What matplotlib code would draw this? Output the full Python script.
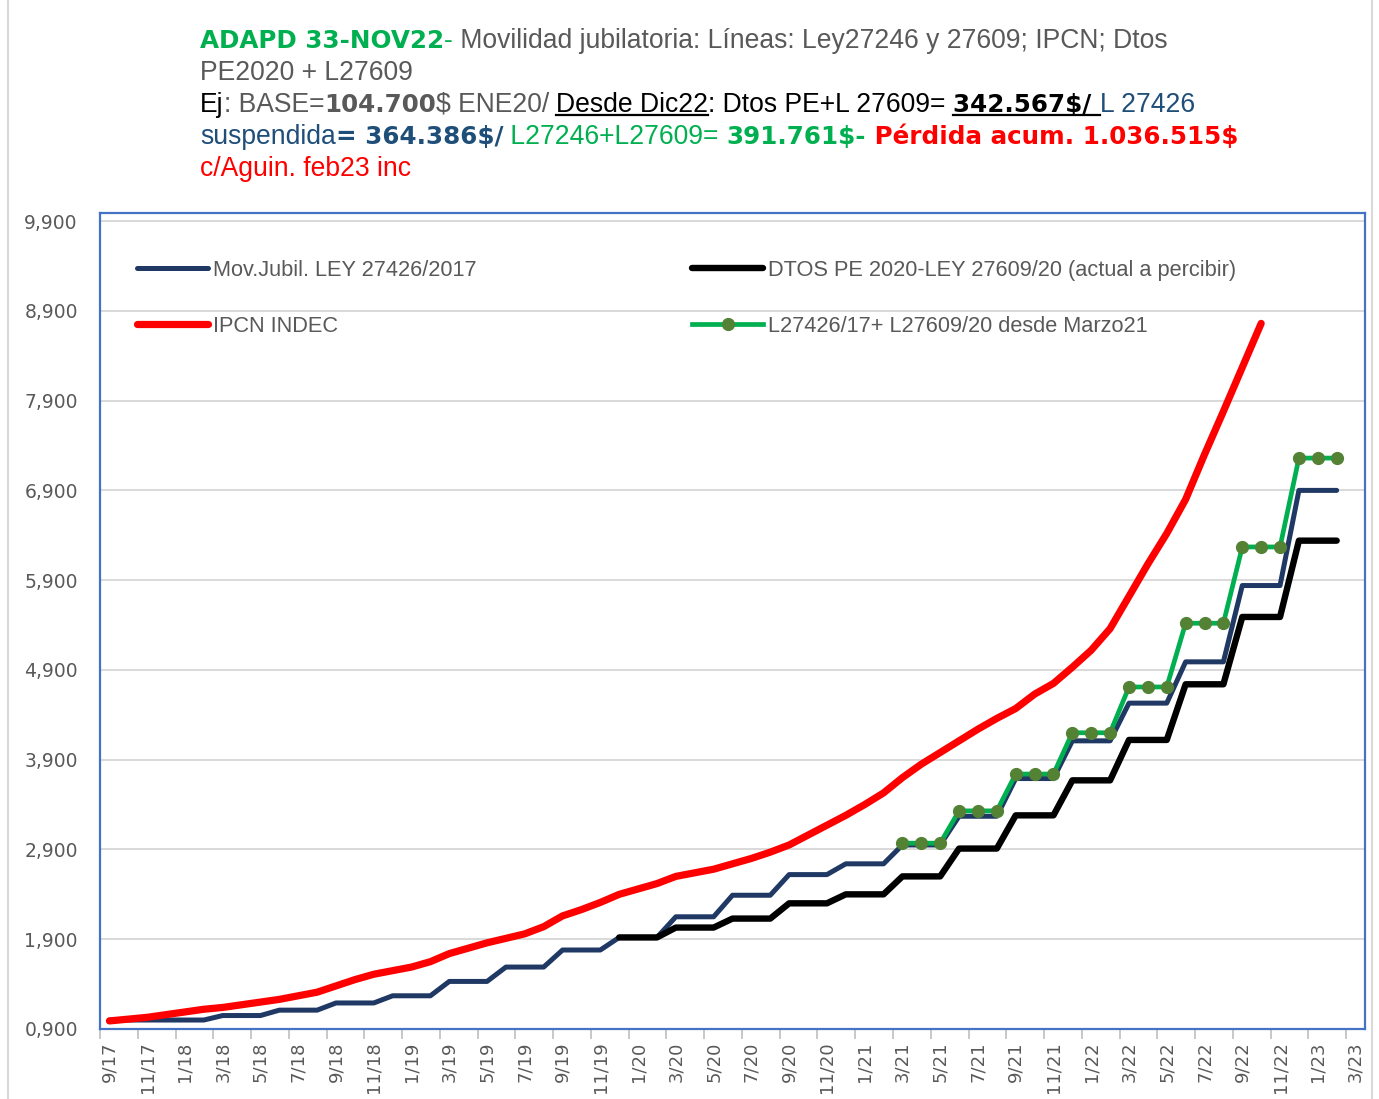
import matplotlib
matplotlib.use("Agg")
import matplotlib.pyplot as plt
import numpy as np
from matplotlib.lines import Line2D

W, H = 1379, 1099
TITLE_FONT = "Liberation Sans"
BOLD_FONT = "DejaVu Sans"
TICK_FONT = "DejaVu Sans"

# eje x: un punto por mes desde 9/17 hasta 3/23, rotulo cada 2 meses
x_labels = ["9/17", "11/17", "1/18", "3/18", "5/18", "7/18", "9/18", "11/18",
            "1/19", "3/19", "5/19", "7/19", "9/19", "11/19", "1/20", "3/20",
            "5/20", "7/20", "9/20", "11/20", "1/21", "3/21", "5/21", "7/21",
            "9/21", "11/21", "1/22", "3/22", "5/22", "7/22", "9/22", "11/22",
            "1/23", "3/23"]
n_months = 67

y_ticks = [0.9, 1.9, 2.9, 3.9, 4.9, 5.9, 6.9, 7.9, 8.9, 9.9]
y_labels = ["0,900", "1,900", "2,900", "3,900", "4,900", "5,900", "6,900",
            "7,900", "8,900", "9,900"]

# Mov.Jubil. LEY 27426/2017 (desde 9/17)
ley27426 = [1.00, 1.00, 1.00, 1.00, 1.00, 1.00,
            1.05, 1.05, 1.05, 1.11, 1.11, 1.11,
            1.19, 1.19, 1.19, 1.27, 1.27, 1.27,
            1.43, 1.43, 1.43, 1.59, 1.59, 1.59,
            1.78, 1.78, 1.78, 1.92, 1.92, 1.92,
            2.15, 2.15, 2.15, 2.39, 2.39, 2.39,
            2.62, 2.62, 2.62, 2.74, 2.74, 2.74,
            2.95, 2.95, 2.95, 3.27, 3.27, 3.27,
            3.69, 3.69, 3.69, 4.11, 4.11, 4.11,
            4.53, 4.53, 4.53, 4.99, 4.99, 4.99,
            5.84, 5.84, 5.84, 6.90, 6.90, 6.90]

# DTOS PE 2020-LEY 27609/20 (desde 12/19)
dtos_start = 27
dtos_pe = [1.92, 1.92, 1.92, 2.03, 2.03, 2.03,
           2.13, 2.13, 2.13, 2.30, 2.30, 2.30,
           2.40, 2.40, 2.40, 2.60, 2.60, 2.60,
           2.91, 2.91, 2.91, 3.28, 3.28, 3.28,
           3.67, 3.67, 3.67, 4.12, 4.12, 4.12,
           4.74, 4.74, 4.74, 5.49, 5.49, 5.49,
           6.34, 6.34, 6.34]

# IPCN INDEC (desde 9/17)
ipcn = [0.99, 1.01, 1.03, 1.06, 1.09, 1.12, 1.14, 1.17, 1.20, 1.23,
        1.27, 1.31, 1.38, 1.45, 1.51, 1.55, 1.59, 1.65, 1.74, 1.80,
        1.86, 1.91, 1.96, 2.04, 2.16, 2.23, 2.31, 2.40, 2.46, 2.52,
        2.60, 2.64, 2.68, 2.74, 2.80, 2.87, 2.95, 3.06, 3.17, 3.28,
        3.40, 3.53, 3.70, 3.85, 3.98, 4.11, 4.24, 4.36, 4.47, 4.63,
        4.75, 4.93, 5.12, 5.36, 5.72, 6.08, 6.42, 6.80, 7.30, 7.78,
        8.27, 8.76]

# L27426/17 + L27609/20 desde Marzo21
mixto_start = 42
mixto = [2.97, 2.97, 2.97, 3.33, 3.33, 3.33,
         3.74, 3.74, 3.74, 4.20, 4.20, 4.20,
         4.71, 4.71, 4.71, 5.42, 5.42, 5.42,
         6.27, 6.27, 6.27, 7.26, 7.26, 7.26]

GRAY = "#595959"
GREEN = "#00B050"
BLUE_T = "#1F4E79"
RED = "#FF0000"
SIZE_N = 19.1
SIZE_B = 17.7


def font_of(weight):
    if weight == "bold":
        return dict(family=BOLD_FONT, fontweight="bold", fontsize=SIZE_B)
    return dict(family=TITLE_FONT, fontweight="normal", fontsize=SIZE_N)


def text_width(fig, r, s, weight):
    t = fig.text(0, 0, s, **font_of(weight))
    w = t.get_window_extent(r).width
    t.remove()
    return w


def draw_rich(fig, x_px, y_px, parts):
    r = fig.canvas.get_renderer()
    x = x_px
    for p in parts:
        txt, color, weight = p[0], p[1], p[2]
        under = len(p) > 3 and p[3]
        bar = text_width(fig, r, "||", weight)
        w = text_width(fig, r, "|" + txt + "|", weight) - bar
        fig.text(x / W, 1 - y_px / H, txt, color=color, ha="left",
                 va="baseline", **font_of(weight))
        if under:
            uy = 1 - (y_px + 3) / H
            fig.add_artist(Line2D([x / W, (x + w) / W], [uy, uy], color=color,
                                  lw=1.6, transform=fig.transFigure))
        x += w


fig = plt.figure(figsize=(W / 100, H / 100), dpi=100)
ax = fig.add_axes([100 / W, 1 - 1029 / H, 1265 / W, 816 / H])

ax.plot(np.arange(len(ley27426)), ley27426, color="#1F3864", lw=3.6,
        solid_joinstyle="round", solid_capstyle="round", zorder=3,
        label="Mov.Jubil. LEY 27426/2017")
ax.plot(np.arange(len(dtos_pe)) + dtos_start, dtos_pe, color="black", lw=4.6,
        solid_joinstyle="round", solid_capstyle="round", zorder=4,
        label="DTOS PE 2020-LEY 27609/20 (actual a percibir)")
ax.plot(np.arange(len(ipcn)), ipcn, color=RED, lw=5.2,
        solid_joinstyle="round", solid_capstyle="round", zorder=5,
        label="IPCN INDEC")
ax.plot(np.arange(len(mixto)) + mixto_start, mixto, color=GREEN, lw=3.4,
        marker="o", ms=8.5, mfc="#548235", mec="#548235",
        solid_joinstyle="round", zorder=6,
        label="L27426/17+ L27609/20 desde Marzo21")

ax.set_xlim(-0.5, n_months - 0.5)
ax.set_ylim(0.9, 9.99)
ax.set_yticks(y_ticks)
ax.set_yticklabels(y_labels, fontsize=13.5, color=GRAY, family=TICK_FONT)
ax.tick_params(axis="y", length=0, pad=16)
ax.set_xticks(np.arange(0, n_months, 2))
ax.set_xticklabels(x_labels, rotation=90, fontsize=13, color=GRAY,
                   family=TICK_FONT)
ax.set_xticks(np.arange(0, n_months, 2) - 0.5, minor=True)
ax.tick_params(axis="x", which="major", length=0, pad=9)
ax.tick_params(axis="x", which="minor", length=7, width=1.2, color="#BFBFBF")
ax.grid(axis="y", color="#D9D9D9", lw=1.4)
ax.set_axisbelow(True)
for s in ax.spines.values():
    s.set_color("#4472C4")
    s.set_linewidth(1.6)

h, l = ax.get_legend_handles_labels()
order = [0, 2, 1, 3]
leg = ax.legend([h[i] for i in order], [l[i] for i in order], ncol=2,
                loc="upper left", bbox_to_anchor=(0.029, 0.943), frameon=False,
                handlelength=3.25, handletextpad=0.23,
                columnspacing=9.9, labelspacing=1.62, borderaxespad=0,
                borderpad=0, prop={"family": TITLE_FONT, "size": 15.7})
for t in leg.get_texts():
    t.set_color(GRAY)

# marco exterior del grafico
for xp in (8, 1372):
    fig.add_artist(Line2D([xp / W, xp / W], [0, 1], color="#D9D9D9", lw=1.5,
                          transform=fig.transFigure))

draw_rich(fig, 200, 48, [("ADAPD 33-NOV22", GREEN, "bold"), ("-", GREEN, "normal"),
                         (" Movilidad jubilatoria: Líneas: Ley27246 y 27609; IPCN; Dtos", GRAY, "normal")])
draw_rich(fig, 200, 80, [("PE2020 + L27609", GRAY, "normal")])
draw_rich(fig, 200, 112, [("Ej", "black", "normal"), (": BASE=", GRAY, "normal"),
                          ("104.700", GRAY, "bold"), ("$ ENE20/ ", GRAY, "normal"),
                          ("Desde Dic22", "black", "normal", True),
                          (": Dtos PE+L 27609= ", "black", "normal"),
                          ("342.567$/ ", "black", "bold", True),
                          ("L 27426", BLUE_T, "normal")])
draw_rich(fig, 200, 144, [("suspendida", BLUE_T, "normal"), ("= 364.386$/", BLUE_T, "bold"),
                          (" L27246+L27609= ", GREEN, "normal"), ("391.761$-", GREEN, "bold"),
                          (" Pérdida acum. 1.036.515$", RED, "bold")])
draw_rich(fig, 200, 176, [("c/Aguin. feb23 inc", RED, "normal")])

fig.savefig("out.png", dpi=100)
